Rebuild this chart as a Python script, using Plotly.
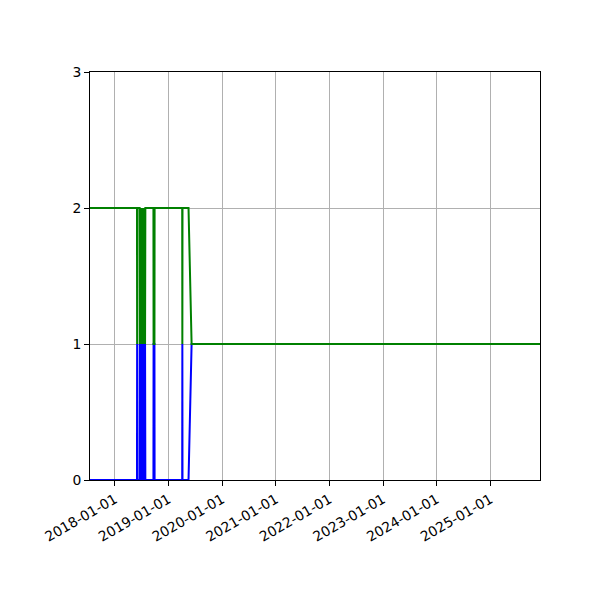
import plotly.graph_objects as go

# Data
dates = [
    "2017-07-15", "2018-05-31", "2018-06-01", "2018-06-02", "2018-06-18",
    "2018-06-19", "2018-06-21", "2018-06-23", "2018-06-25", "2018-06-27",
    "2018-06-29", "2018-07-01", "2018-07-03", "2018-07-05", "2018-07-07",
    "2018-07-09", "2018-07-11", "2018-07-13", "2018-07-15", "2018-07-17",
    "2018-07-19", "2018-07-21", "2018-07-23", "2018-07-25", "2018-07-27",
    "2018-09-20", "2018-09-21", "2018-09-27", "2018-09-28", "2019-04-04",
    "2019-04-05", "2019-04-06", "2019-05-17", "2019-06-07", "2025-12-05",
]
blue_values = [
    0, 0, 1, 0, 0,
    1, 0, 1, 0, 1,
    0, 1, 0, 1, 0,
    1, 0, 1, 0, 1,
    0, 1, 0, 1, 0,
    0, 1, 1, 0, 0,
    1, 0, 0, 1, 1,
]
green_values = [
    2, 2, 1, 2, 2,
    1, 2, 1, 2, 1,
    2, 1, 2, 1, 2,
    1, 2, 1, 2, 1,
    2, 1, 2, 1, 2,
    2, 1, 1, 2, 2,
    1, 2, 2, 1, 1,
]
x_tick_vals = ["2018-01-01", "2019-01-01", "2020-01-01", "2021-01-01",
               "2022-01-01", "2023-01-01", "2024-01-01", "2025-01-01"]
x_tick_text = x_tick_vals
y_tick_vals = [0, 1, 2, 3]
x_range = ["2017-07-15", "2025-12-05"]
y_range = [0, 3]

fig = go.Figure()
fig.add_trace(go.Scatter(x=dates, y=blue_values, mode="lines",
                         line=dict(color="#0000ff", width=2, simplify=False),
                         showlegend=False))
fig.add_trace(go.Scatter(x=dates, y=green_values, mode="lines",
                         line=dict(color="#008000", width=2, simplify=False),
                         showlegend=False))

axis_common = dict(
    showline=True, linecolor="black", linewidth=1, mirror=True,
    ticks="outside", ticklen=5, tickwidth=1, tickcolor="black",
    showgrid=True, gridcolor="#b0b0b0", gridwidth=1,
    zeroline=False, automargin=False,
    tickfont=dict(family="DejaVu Sans", size=13.9, color="black"),
)

# page body adds an 8px offset; margins compensate so the plot area sits at 90..540 x 72..480
fig.update_layout(
    width=600, height=600,
    margin=dict(l=82, r=68, t=64, b=128),
    paper_bgcolor="white", plot_bgcolor="white",
    xaxis=dict(type="date", range=x_range, tickmode="array",
               tickvals=x_tick_vals, ticktext=x_tick_text, tickangle=-30,
               **axis_common),
    yaxis=dict(range=y_range, tickmode="array", tickvals=y_tick_vals,
               ticktext=[str(v) for v in y_tick_vals], **axis_common),
)

fig.write_html("out.html")
